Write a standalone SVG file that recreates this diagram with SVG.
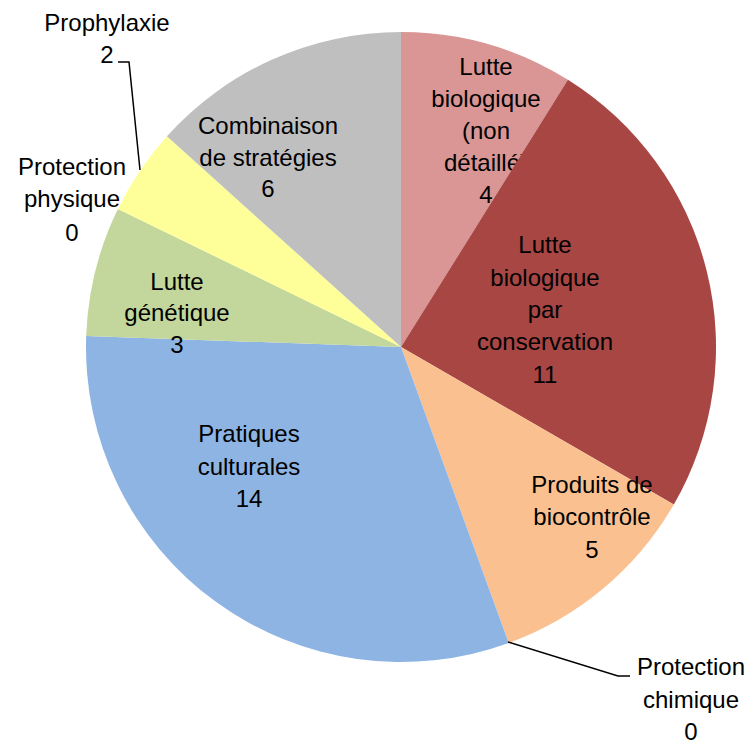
<svg xmlns="http://www.w3.org/2000/svg" width="751" height="741" viewBox="0 0 751 741">
<style>
text{font-family:"Liberation Sans",Arial,sans-serif;font-size:24px;fill:#000;text-anchor:middle}
.lead{fill:none;stroke:#000;stroke-width:1.5}
</style>
<rect width="751" height="741" fill="#fff"/>
<g id="slice-lutte-bio-non-detaille">
<path d="M401,347 L401,32 A315,315 0 0 1 567.92,79.86 Z" fill="#D99694"/>
<text x="486" y="75">Lutte</text><text x="486" y="107">biologique</text><text x="486" y="139">(non</text><text x="486" y="171">détaillé)</text><text x="486" y="203">4</text>
</g>
<g id="slice-lutte-bio-conservation">
<path d="M401,347 L567.92,79.86 A315,315 0 0 1 673.80,504.5 Z" fill="#A84644"/>
<text x="545" y="253">Lutte</text><text x="545" y="286">biologique</text><text x="545" y="318">par</text><text x="545" y="350">conservation</text><text x="545" y="383">11</text>
</g>
<g id="slice-produits-biocontrole">
<path d="M401,347 L673.80,504.5 A315,315 0 0 1 508.74,643 Z" fill="#FAC090"/>
<text x="592" y="493">Produits de</text><text x="592" y="525">biocontrôle</text><text x="592" y="558">5</text>
</g>
<g id="slice-pratiques-culturales">
<path d="M401,347 L508.74,643 A315,315 0 0 1 86.19,336.01 Z" fill="#8EB4E3"/>
<text x="249" y="442">Pratiques</text><text x="249" y="475">culturales</text><text x="249" y="507">14</text>
</g>
<g id="slice-lutte-genetique">
<path d="M401,347 L86.19,336.01 A315,315 0 0 1 117.88,208.91 Z" fill="#C3D69B"/>
<text x="177" y="290">Lutte</text><text x="177" y="321">génétique</text><text x="177" y="353">3</text>
</g>
<g id="slice-prophylaxie">
<path d="M401,347 L117.88,208.91 A315,315 0 0 1 166.91,136.22 Z" fill="#FFFF99"/>
<text x="107" y="31">Prophylaxie</text><text x="107" y="63">2</text>
</g>
<g id="slice-combinaison">
<path d="M401,347 L166.91,136.22 A315,315 0 0 1 401,32 Z" fill="#BFBFBF"/>
<text x="268" y="134">Combinaison</text><text x="268" y="166">de stratégies</text><text x="268" y="197">6</text>
</g>
<g id="label-protection-physique">
<text x="72" y="175">Protection</text><text x="72" y="207">physique</text><text x="72" y="241">0</text>
</g>
<g id="label-protection-chimique">
<text x="691" y="675">Protection</text><text x="691" y="708">chimique</text><text x="691" y="740">0</text>
</g>
<g id="connectors">
<polyline class="lead" points="118,62 129,62 140,170"/>
<polyline class="lead" points="508,642 618,676 630,676"/>
</g>
</svg>
